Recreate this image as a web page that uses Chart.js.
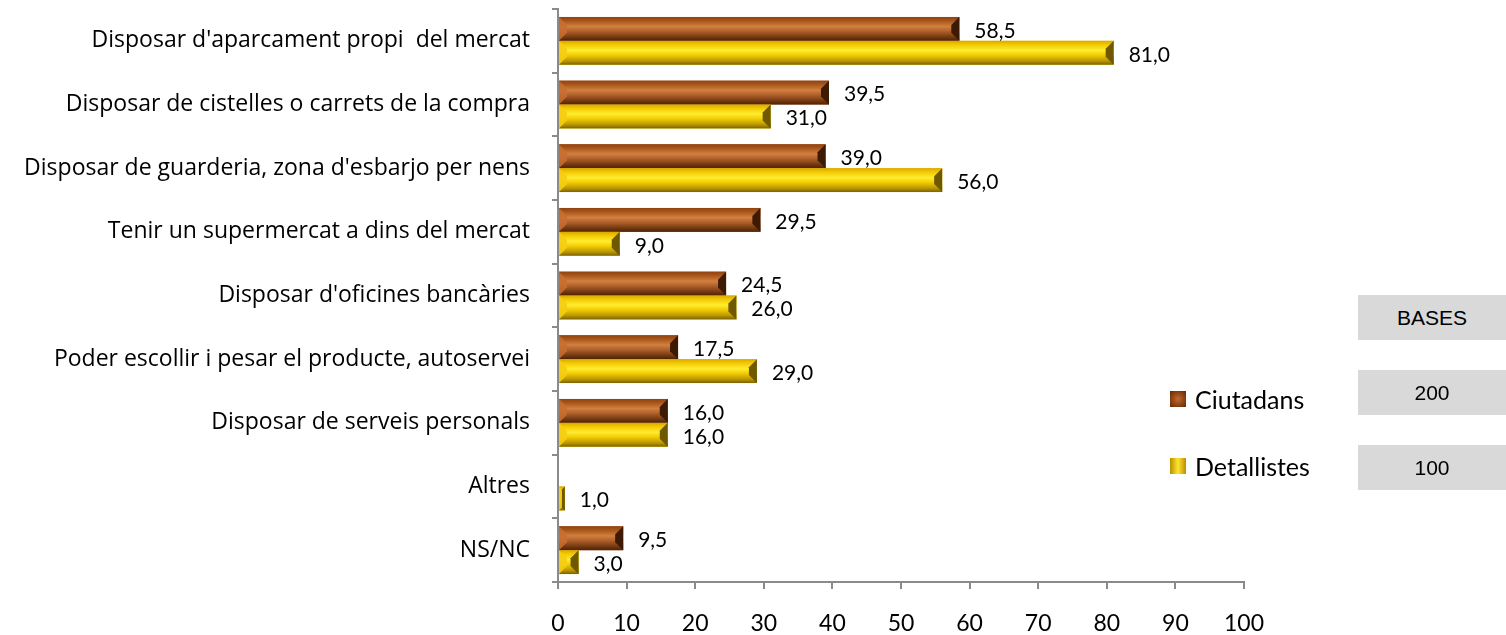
<!DOCTYPE html>
<html>
<head>
<meta charset="utf-8">
<script src="https://cdn.jsdelivr.net/npm/chart.js@4.4.1/dist/chart.umd.min.js"></script>
<style>
  html, body { margin: 0; padding: 0; background: #fff; }
  #wrap { position: relative; width: 1506px; height: 635px; overflow: hidden; }
  canvas { position: absolute; left: 0; top: 0; }
  .leg { position: absolute; font-family: Lato, "Open Sans", sans-serif; font-size: 25px; color: #000; display: flex; align-items: center; height: 30px; }
  .sw { width: 16px; height: 16px; margin-right: 9px; box-sizing: border-box; }
  .base { position: absolute; left: 1358px; width: 148px; height: 45px; background: #d9d9d9; font-family: "Liberation Sans", Arial, sans-serif; font-size: 21px; color: #000; display: flex; align-items: center; justify-content: center; }
</style>
</head>
<body>
<div id="wrap">
  <canvas id="c" width="1506" height="635"></canvas>
  <div class="leg" id="leg0" style="left:1170px; top:384px;"><div class="sw" id="sw0"></div><span id="lt0"></span></div>
  <div class="leg" id="leg1" style="left:1170px; top:451px;"><div class="sw" id="sw1"></div><span id="lt1"></span></div>
  <div class="base" style="top:295px;" id="b0"></div>
  <div class="base" style="top:370px;" id="b1"></div>
  <div class="base" style="top:445px;" id="b2"></div>
</div>
<script>
const categories = [
  "Disposar d'aparcament propi  del mercat",
  "Disposar de cistelles o carrets de la compra",
  "Disposar de guarderia, zona d'esbarjo per nens",
  "Tenir un supermercat a dins del mercat",
  "Disposar d'oficines bancàries",
  "Poder escollir i pesar el producte, autoservei",
  "Disposar de serveis personals",
  "Altres",
  "NS/NC"
];
const seriesNames = ["Ciutadans", "Detallistes"];
const ciutadans = [58.5, 39.5, 39.0, 29.5, 24.5, 17.5, 16.0, null, 9.5];
const detallistes = [81.0, 31.0, 56.0, 9.0, 26.0, 29.0, 16.0, 1.0, 3.0];
const xTicks = [0, 10, 20, 30, 40, 50, 60, 70, 80, 90, 100];
const basesLabels = ["BASES", "200", "100"];

const palettes = [
  { base: '#a85418', stops: ['#8e4212', '#a85418', '#d08040', '#b0602a', '#723810', '#4e2206'], left: 'rgba(200,110,50,0.85)', right: '#3c1a04' },
  { base: '#f2c800', stops: ['#d8a800', '#f2c800', '#ffec30', '#f2cc00', '#b89400', '#7a6200'], left: 'rgba(245,205,20,0.9)', right: '#6e5800' }
];

document.getElementById('lt0').textContent = seriesNames[0];
document.getElementById('lt1').textContent = seriesNames[1];
['b0','b1','b2'].forEach((id, i) => document.getElementById(id).textContent = basesLabels[i]);
document.getElementById('sw0').style.background = 'radial-gradient(circle, #c06a2c 0%, #8a4010 60%, #5c2a0a 100%)';
document.getElementById('sw1').style.background = 'linear-gradient(90deg, #b89000 0%, #ffe430 50%, #b89000 100%)';

const FONT = 'Lato, "Open Sans", sans-serif';

const bevelPlugin = {
  id: 'bevel',
  afterDatasetsDraw(chart) {
    const ctx = chart.ctx;
    chart.data.datasets.forEach((ds, di) => {
      const meta = chart.getDatasetMeta(di);
      const pal = palettes[di];
      meta.data.forEach((el, i) => {
        if (ds.data[i] == null) return;
        const p = el.getProps(['x', 'y', 'base', 'height'], true);
        const L = Math.min(p.base, p.x), R = Math.max(p.base, p.x);
        const T = p.y - p.height / 2, B = p.y + p.height / 2;
        const w = R - L, h = B - T;
        if (w <= 0) return;
        const b = Math.min(8, w / 2, h / 2);
        ctx.save();
        const g = ctx.createLinearGradient(0, T, 0, B);
        const pos = [0, 0.15, 0.4, 0.6, 0.85, 1];
        pal.stops.forEach((c, k) => g.addColorStop(pos[k], c));
        ctx.fillStyle = g;
        ctx.fillRect(L, T, w, h);
        ctx.fillStyle = pal.left;
        ctx.beginPath(); ctx.moveTo(L, T); ctx.lineTo(L + b, T + b); ctx.lineTo(L + b, B - b); ctx.lineTo(L, B); ctx.closePath(); ctx.fill();
        ctx.fillStyle = pal.right;
        ctx.beginPath(); ctx.moveTo(R, T); ctx.lineTo(R - b, T + b); ctx.lineTo(R - b, B - b); ctx.lineTo(R, B); ctx.closePath(); ctx.fill();
        ctx.restore();
      });
    });
  }
};

const labelPlugin = {
  id: 'vlabels',
  afterDatasetsDraw(chart) {
    const ctx = chart.ctx;
    ctx.save();
    ctx.font = '21px ' + FONT;
    ctx.fillStyle = '#000';
    ctx.textAlign = 'left';
    ctx.textBaseline = 'middle';
    chart.data.datasets.forEach((ds, di) => {
      const meta = chart.getDatasetMeta(di);
      meta.data.forEach((el, i) => {
        const v = ds.data[i];
        if (v == null) return;
        const txt = v.toFixed(1).replace('.', ',');
        ctx.fillText(txt, el.x + 15, el.y + 2);
      });
    });
    ctx.restore();
  }
};

new Chart(document.getElementById('c'), {
  type: 'bar',
  data: {
    labels: categories,
    datasets: [
      { label: seriesNames[0], data: ciutadans, backgroundColor: palettes[0].base, categoryPercentage: 0.75, barPercentage: 1.0 },
      { label: seriesNames[1], data: detallistes, backgroundColor: palettes[1].base, categoryPercentage: 0.75, barPercentage: 1.0 }
    ]
  },
  options: {
    indexAxis: 'y',
    responsive: false,
    animation: false,
    events: [],
    layout: { padding: { top: 9, right: 262, left: 0, bottom: 0 } },
    plugins: { legend: { display: false }, tooltip: { enabled: false } },
    scales: {
      x: {
        min: 0, max: 100,
        afterBuildTicks(s) { s.ticks = xTicks.map(v => ({ value: v })); },
        afterFit(s) { s.height = 53; s.paddingRight = 0; s.paddingLeft = 0; },
        grid: { drawOnChartArea: false, tickLength: 7, color: '#8a8a8a', lineWidth: 2 },
        border: { display: true, color: '#8a8a8a', width: 2 },
        ticks: { font: { family: FONT, size: 23 }, color: '#000', padding: 21, maxRotation: 0, autoSkip: false }
      },
      y: {
        afterFit(s) { s.width = 558; s.paddingTop = 0; s.paddingBottom = 0; },
        grid: { drawOnChartArea: false, tickLength: 6, color: '#8a8a8a', lineWidth: 2, offset: true },
        border: { display: true, color: '#8a8a8a', width: 2 },
        ticks: { font: { family: '"Open Sans", Lato, sans-serif', size: 23 }, color: '#000', padding: 22, autoSkip: false }
      }
    }
  },
  plugins: [bevelPlugin, labelPlugin]
});
</script>
</body>
</html>
